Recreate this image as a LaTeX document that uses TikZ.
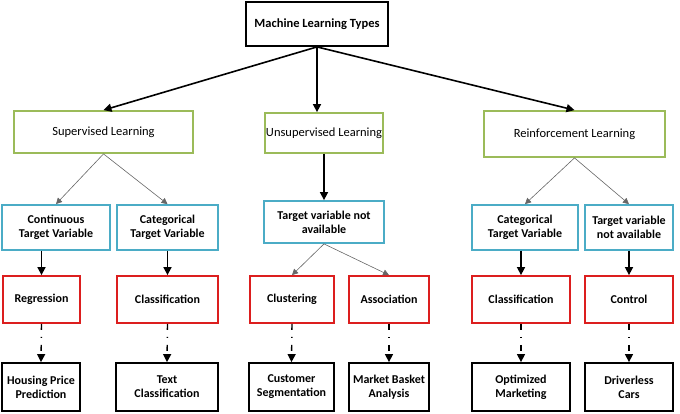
\documentclass[tikz,border=0pt]{standalone}
\usepackage{fontspec}
\setmainfont{Carlito}
\usetikzlibrary{arrows.meta}
\definecolor{gr}{RGB}{155,187,89}
\definecolor{bl}{RGB}{75,172,198}
\definecolor{rd}{RGB}{220,30,30}
\tikzset{
 bx/.style={draw,line width=1.8pt,inner sep=0pt,align=center,font=\fontsize{12}{14}\selectfont\bfseries},
 gbox/.style={bx,draw=gr,font=\fontsize{12.5}{14}\selectfont},
 bbox/.style={bx,draw=bl},
 rbox/.style={bx,draw=rd},
 kbox/.style={bx,draw=black},
 thick arr/.style={-{Triangle[length=8pt,width=8pt]},line width=1.6pt},
 thin arr/.style={-{Triangle[length=6pt,width=6pt]},draw=black!60,line width=0.6pt},
 dot arr/.style={-{Triangle[length=8pt,width=8pt]},line width=1.4pt,dash pattern=on 6pt off 7pt on 1pt off 7pt},
}
\newcommand{\bxat}[6]{\node[#1,minimum width=#4pt-#2pt,minimum height=#5pt-#3pt] (#6) at ({(#2+#4)/2},{(#3+#5)/2})}
\begin{document}
\begin{tikzpicture}[x=1pt,y=-1pt]
\useasboundingbox (0,0) rectangle (680,413);
\bxat{kbox}{246}{2}{388}{46}{top} {\mdseries\fontsize{12.5}{14}\selectfont\textbf{Machine Learning Types}};
\bxat{gbox}{14}{111}{193}{153}{sup} {Supervised Learning};
\bxat{gbox}{265}{113}{383}{153}{uns} {Unsupervised Learning};
\bxat{gbox}{484}{111}{665}{157}{rei} {Reinforcement Learning};
\bxat{bbox}{2}{205}{110}{250}{b1} {Continuous\\Target Variable};
\bxat{bbox}{117}{205}{218}{250}{b2} {Categorical\\Target Variable};
\bxat{bbox}{264}{201}{384}{243}{b3} {Target variable not\\available};
\bxat{bbox}{472}{205}{578}{250}{b4} {Categorical\\Target Variable};
\bxat{bbox}{585}{205}{673}{250}{b5} {Target variable\\not available};
\bxat{rbox}{3}{276}{80}{323}{r1} {Regression};
\bxat{rbox}{117}{276}{218}{323}{r2} {Classification};
\bxat{rbox}{250}{276}{334}{323}{r3} {Clustering};
\bxat{rbox}{349}{276}{429}{323}{r4} {Association};
\bxat{rbox}{472}{276}{570}{323}{r5} {Classification};
\bxat{rbox}{585}{276}{673}{323}{r6} {Control};
\bxat{kbox}{2}{363}{80}{411}{k1} {Housing Price\\Prediction};
\bxat{kbox}{116}{363}{218}{411}{k2} {Text\\Classification};
\bxat{kbox}{249}{363}{334}{411}{k3} {Customer\\Segmentation};
\bxat{kbox}{349}{363}{429}{411}{k4} {Market Basket\\Analysis};
\bxat{kbox}{472}{363}{570}{411}{k5} {Optimized\\Marketing};
\bxat{kbox}{585}{363}{673}{411}{k6} {Driverless\\Cars};
\draw[thick arr] (top.south) -- (sup.north);
\draw[thick arr] (top.south) -- (top.south |- uns.north);
\draw[thick arr] (top.south) -- (rei.north);
\draw[thin arr] (sup.south) -- (b1.north);
\draw[thin arr] (sup.south) -- (b2.north);
\draw[thick arr] (uns.south) -- (b3.north);
\draw[thin arr] (b3.south) -- (r3.north);
\draw[thin arr] (b3.south) -- (r4.north);
\draw[thin arr] (rei.south) -- (b4.north);
\draw[thin arr] (rei.south) -- (b5.north);
\draw[thick arr] (b1.south -| r1.north) -- (r1.north);
\draw[thick arr] (b2.south) -- (r2.north);
\draw[thick arr] (b4.south -| r5.north) -- (r5.north);
\draw[thick arr] (b5.south) -- (r6.north);
\foreach \i in {1,...,6} \draw[dot arr] (r\i.south) -- (k\i.north);
\end{tikzpicture}
\end{document}
